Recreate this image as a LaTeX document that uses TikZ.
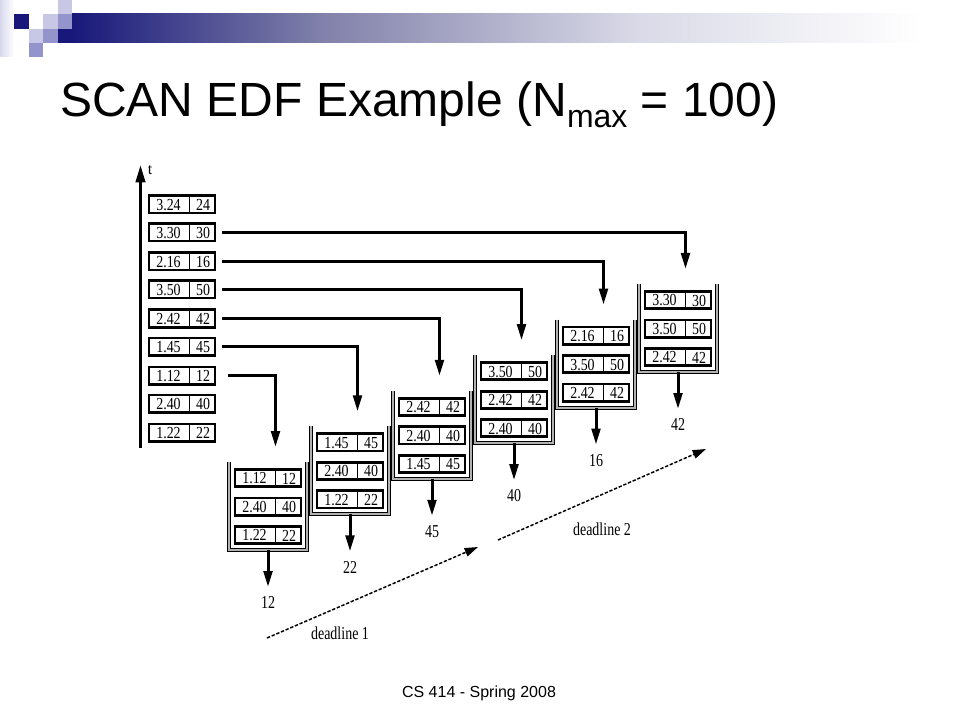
\documentclass[tikz,border=0pt]{standalone}
\usepackage{fontspec}
\setmainfont{Liberation Sans}
\newfontfamily\figfont{Liberation Serif}
\usetikzlibrary{arrows.meta,calc}

\definecolor{navy}{RGB}{24,24,122}
\definecolor{lavlight}{RGB}{200,200,230}
\definecolor{lavmid}{RGB}{148,148,204}
\definecolor{barmid}{RGB}{128,128,170}
\definecolor{barlight}{RGB}{218,218,232}

\tikzset{
  jobbox/.style={draw, line width=2.1pt, minimum width=49.6pt, minimum height=12.9pt, inner sep=0pt},
  divider/.style={line width=0.7pt},
  jobtext/.style={font=\figfont\fontsize{11}{11}\selectfont, inner sep=0pt},
  flow/.style={line width=2.25pt, -{Triangle[length=12pt,width=6.5pt]}},
  outflow/.style={flow, shorten >=6pt},
  bin/.style={line width=0.7pt, double=gray!60, double distance=1.5pt},
  outlabel/.style={font=\figfont\fontsize{10.5}{10.5}\selectfont, inner sep=1pt},
  deadline/.style={line width=1.1pt, dash pattern=on 2.5pt off 1.3pt, -{Triangle[length=10pt,width=6.5pt]}},
}

% one request: name, position, time, deadline
\newcommand{\job}[4]{%
  \node[jobbox] (#1) at (#2) {};
  \draw[divider] ($(#1.north)+(7.5,0)$) -- ($(#1.south)+(7.5,0)$);
  \node[jobtext] (#1-t) at ($(#1.center)+(-13.5,0.5)$) {\scalebox{0.95}[1.15]{#3}};
  \node[jobtext] (#1-d) at ($(#1.center)+(21,0.5)$) {\scalebox{0.95}[1.15]{#4}};
}

% one scan batch: name, x, y, served deadline
\newcommand{\bin}[4]{%
  \coordinate (#1-nw) at (#2,#3);
  \coordinate (#1-sw) at (#2,#3+88);
  \coordinate (#1-se) at (#2+78,#3+88);
  \coordinate (#1-ne) at (#2+78,#3);
  \draw[bin] (#1-nw) -- (#1-sw) -- (#1-se) -- (#1-ne);
  \coordinate (#1-1) at (#2+39,#3+16);
  \coordinate (#1-2) at (#2+39,#3+44.5);
  \coordinate (#1-3) at (#2+39,#3+73);
  \coordinate (#1-in) at (#2+46.5,#3-15);
  \coordinate (#1-bot) at (#2+39,#3+88);
  \node[outlabel, anchor=north] (#1-out) at (#2+39,#3+133) {\scalebox{1}[1.3]{#4}};
  \draw[outflow] (#1-bot) -- (#1-out.north);
}

\begin{document}
\begin{tikzpicture}[x=0.75pt,y=-0.75pt]
  \useasboundingbox (0,0) rectangle (960,720);
  \fill[white] (0,0) rectangle (960,720);

  % slide decoration
  \shade[left color=lavlight!70, right color=white] (0,0) rectangle (14,57);
  \fill[navy] (14,14) rectangle (29,29);
  \fill[lavlight] (29,29) rectangle (43,43);
  \fill[lavmid] (29,43) rectangle (43,57);
  \fill[lavlight] (43,14) rectangle (58,29);
  \fill[lavmid] (43,29) rectangle (58,43);
  \fill[lavlight] (58,0) rectangle (72,14);
  \fill[lavmid] (58,14) rectangle (72,29);
  \fill[navy] (58,29) rectangle (72,43);
  \shade[left color=navy, right color=barmid] (72,14) rectangle (320,43);
  \shade[left color=barmid, right color=barlight] (320,14) rectangle (640,43);
  \shade[left color=barlight, right color=white] (640,14) rectangle (920,43);

  \node[anchor=base west, inner sep=0pt, font=\fontsize{36}{36}\selectfont] (title) at (60,117)
    {SCAN EDF Example (N\raisebox{-8pt}{\fontsize{24}{24}\selectfont max} = 100)};
  \node[anchor=base, inner sep=0pt, font=\fontsize{12}{12}\selectfont] (foot) at (479,697) {CS 414 - Spring 2008};

  % time axis
  \coordinate (tb) at (140.5,448);
  \coordinate (tt) at (140.5,165);
  \draw[line width=2.25pt, -{Triangle[length=13pt,width=7pt]}] (tb) -- (tt);
  \node[inner sep=0pt, font=\figfont\fontsize{12}{12}\selectfont] (tlbl) at (150,170) {t};

  % arriving requests
  \job{L1}{182,204.5}{3.24}{24}
  \job{L2}{182,232.5}{3.30}{30}
  \job{L3}{182,261.5}{2.16}{16}
  \job{L4}{182,289.5}{3.50}{50}
  \job{L5}{182,318.5}{2.42}{42}
  \job{L6}{182,346.5}{1.45}{45}
  \job{L7}{182,375.5}{1.12}{12}
  \job{L8}{182,403.5}{2.40}{40}
  \job{L9}{182,432.5}{1.22}{22}

  % scan batches
  \bin{q1}{229}{462}{12}
  \job{q1a}{q1-1}{1.12}{12}
  \job{q1b}{q1-2}{2.40}{40}
  \job{q1c}{q1-3}{1.22}{22}

  \bin{q2}{311}{426.4}{22}
  \job{q2a}{q2-1}{1.45}{45}
  \job{q2b}{q2-2}{2.40}{40}
  \job{q2c}{q2-3}{1.22}{22}

  \bin{q3}{393}{390.8}{45}
  \job{q3a}{q3-1}{2.42}{42}
  \job{q3b}{q3-2}{2.40}{40}
  \job{q3c}{q3-3}{1.45}{45}

  \bin{q4}{475}{355.2}{40}
  \job{q4a}{q4-1}{3.50}{50}
  \job{q4b}{q4-2}{2.42}{42}
  \job{q4c}{q4-3}{2.40}{40}

  \bin{q5}{557}{319.6}{16}
  \job{q5a}{q5-1}{2.16}{16}
  \job{q5b}{q5-2}{3.50}{50}
  \job{q5c}{q5-3}{2.42}{42}

  \bin{q6}{639}{284}{42}
  \job{q6a}{q6-1}{3.30}{30}
  \job{q6b}{q6-2}{3.50}{50}
  \job{q6c}{q6-3}{2.42}{42}

  % requests entering the batches
  \draw[flow] ($(L7.east)+(12,0)$) -| (q1-in);
  \draw[flow] ($(L6.east)+(6,0)$) -| (q2-in);
  \draw[flow] ($(L5.east)+(6,0)$) -| (q3-in);
  \draw[flow] ($(L4.east)+(6,0)$) -| (q4-in);
  \draw[flow] ($(L3.east)+(6,0)$) -| (q5-in);
  \draw[flow] ($(L2.east)+(6,0)$) -| (q6-in);

  % deadlines
  \coordinate (d1s) at (267,638);
  \coordinate (d1e) at (478,547);
  \draw[deadline] (d1s) -- (d1e);
  \node[outlabel] (d1lbl) at (340,633) {\scalebox{1}[1.3]{deadline 1}};
  \coordinate (d2s) at (498,540);
  \coordinate (d2e) at (706,449);
  \draw[deadline] (d2s) -- (d2e);
  \node[outlabel] (d2lbl) at (602,529) {\scalebox{1}[1.3]{deadline 2}};
\end{tikzpicture}
\end{document}
